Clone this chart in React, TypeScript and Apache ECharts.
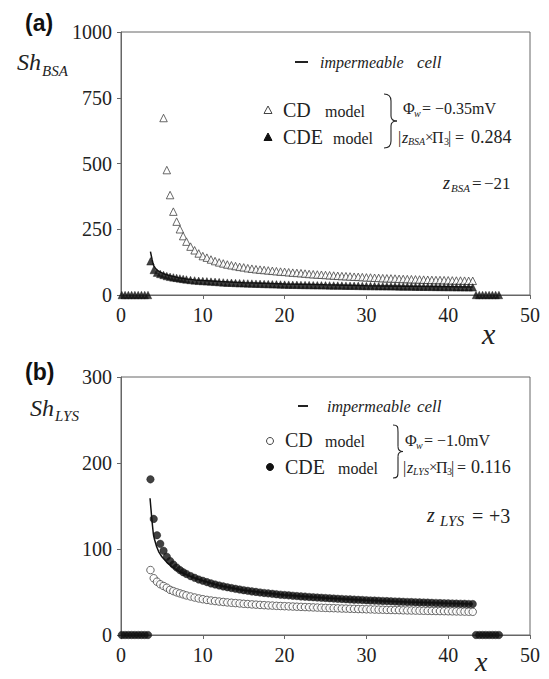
import React, { useEffect, useRef } from "react";
import * as echarts from "echarts";

const SERIF = "Liberation Serif, Times New Roman, serif";
const SANS = "Liberation Sans, Arial, sans-serif";
const INK = "#222";
const FRAME = "#666";

// Shared x positions of the model points (both panels)
const xGrid = [
  3.6, 4.0, 4.4, 4.8, 5.2, 5.6, 6.0, 6.4, 6.8, 7.2, 7.6,
  8.0, 8.5, 9.0, 9.5, 10.0, 10.5, 11.0, 11.5, 12.0, 12.5,
  13.0, 13.5, 14.0, 14.5, 15.0, 15.5, 16.0, 16.5, 17.0, 17.5,
  18.0, 18.5, 19.0, 19.5, 20.0, 20.5, 21.0, 21.5, 22.0, 22.5,
  23.0, 23.5, 24.0, 24.5, 25.0, 25.5, 26.0, 26.5, 27.0, 27.5,
  28.0, 28.5, 29.0, 29.5, 30.0, 30.5, 31.0, 31.5, 32.0, 32.5,
  33.0, 33.5, 34.0, 34.5, 35.0, 35.5, 36.0, 36.5, 37.0, 37.5,
  38.0, 38.5, 39.0, 39.5, 40.0, 40.5, 41.0, 41.5, 42.0, 42.5,
  43.0,
];

// Points lying on the x axis (Sh = 0) on both sides of the sphere region
const zeroLeftX = [0.1, 0.5, 0.9, 1.3, 1.7, 2.1, 2.5, 2.9, 3.3];
const zeroRightX = [43.4, 43.8, 44.2, 44.6, 45.0, 45.4, 45.8, 46.2];

// (a) BSA — CD model (first points are off the scale)
const shBsaCD = [
  null, null, null, null, 673, 475, 380, 317, 279, 250, 224,
  203, 184, 170, 158, 148, 142, 135, 129, 124, 120,
  116, 113, 110, 107, 105, 102, 100, 98, 96.5, 95,
  93.5, 92, 90.5, 89, 88, 86.5, 85, 84, 83, 81.5,
  80, 79, 78, 77, 76, 75, 74, 73, 72, 71.5,
  70.5, 69.5, 69, 68, 67, 66.5, 65.5, 65, 64, 63.5,
  63, 62.5, 61.5, 61, 60.5, 60, 59.5, 59, 58.5, 58,
  57.5, 57, 57, 56.5, 56, 55.5, 55, 55, 54.5, 54,
  54,
];

// (a) BSA — CDE model
const shBsaCDE = [
  128, 95, 85, 80, 76, 72, 69, 67, 65, 63, 61,
  59, 57, 55.5, 54, 53, 52, 51, 50, 49, 48,
  47, 46.5, 45.5, 45, 44.5, 44, 43.5, 43, 42.5, 42,
  41.5, 41, 40.5, 40, 39.5, 39.3, 39, 38.7, 38.4, 38.1,
  37.8, 37.5, 37.2, 37, 36.7, 36.5, 36.2, 36, 35.7, 35.5,
  35.2, 35, 34.7, 34.5, 34.2, 34, 33.8, 33.6, 33.4, 33.2,
  33, 32.8, 32.6, 32.4, 32.2, 32, 31.8, 31.6, 31.4, 31.2,
  31, 30.8, 30.6, 30.4, 30.2, 30, 29.8, 29.6, 29.4, 29.2,
  29,
];

// (a) impermeable cell curve
const cellBsaX = [3.6, 3.7, 3.8, 3.9, 4.0, 4.2, 4.4, 4.8, 5.2, 6, 7, 8, 9, 10, 12, 15, 20, 25, 30, 35, 40, 43];
const cellBsaY = [165, 150, 135, 122, 112, 102, 95, 87, 81, 73, 66, 61, 57.5, 55, 51, 47, 42, 38.5, 35.5, 33, 31, 30];

// (b) LYS — CD model
const shLysCD = [
  75.5, 66, 62, 59, 57, 55, 52.5, 51, 49.6, 48.4, 47.2,
  46, 44.8, 43.6, 42.5, 41.6, 40.8, 40.1, 39.5, 38.9, 38.4,
  37.9, 37.5, 37.1, 36.7, 36.3, 36, 35.6, 35.3, 35, 34.7,
  34.4, 34.2, 33.9, 33.7, 33.5, 33.3, 33.1, 32.9, 32.7, 32.5,
  32.3, 32.1, 31.9, 31.7, 31.5, 31.3, 31.2, 31, 30.8, 30.7,
  30.5, 30.4, 30.2, 30.1, 29.9, 29.8, 29.6, 29.5, 29.4, 29.2,
  29.1, 29, 28.9, 28.7, 28.6, 28.5, 28.4, 28.3, 28.2, 28.1,
  28, 27.9, 27.8, 27.7, 27.6, 27.5, 27.4, 27.3, 27.2, 27.1,
  27,
];

// (b) LYS — CDE model
const shLysCDE = [
  181, 135, 116, 106, 98, 91, 86, 82, 78.5, 75.5, 73,
  71, 68.5, 66.5, 64.5, 63, 61.5, 60, 58.8, 57.6, 56.5,
  55.5, 54.6, 53.7, 52.9, 52.1, 51.4, 50.7, 50.1, 49.5, 48.9,
  48.4, 47.9, 47.4, 46.9, 46.5, 46.1, 45.7, 45.3, 44.9, 44.6,
  44.2, 43.9, 43.6, 43.3, 43, 42.7, 42.4, 42.1, 41.9, 41.6,
  41.4, 41.1, 40.9, 40.7, 40.4, 40.2, 40, 39.8, 39.6, 39.4,
  39.2, 39, 38.8, 38.6, 38.4, 38.3, 38.1, 37.9, 37.8, 37.6,
  37.4, 37.3, 37.1, 37, 36.8, 36.7, 36.5, 36.4, 36.3, 36.1,
  36,
];

// (b) impermeable cell curve
const cellLysX = [3.55, 3.65, 3.75, 3.85, 3.95, 4.1, 4.35, 4.6, 5.0, 5.6, 6.4, 7.2, 8, 9, 10, 12, 15, 20, 25, 30, 35, 40, 43];
const cellLysY = [159, 148, 137, 127, 118, 111, 103, 97, 91, 84.5, 78, 73.5, 70, 66.3, 63, 57.6, 52.1, 46.5, 43, 40.4, 38.4, 36.8, 36];

// Axis ranges and ticks
const xRange = { min: 0, max: 50, step: 10 };
const yRangeBsa = { min: 0, max: 1000, step: 250 };
const yRangeLys = { min: 0, max: 300, step: 100 };

const pairs = (xs: number[], ys: (number | null)[]) =>
  xs.map((x, i) => [x, ys[i]]).filter((p) => p[1] !== null && p[1] !== undefined);

const zeros = (xs: number[]) => xs.map((x) => [x, 0]);

type TOpts = { [k: string]: any };
const txt = (x: number, y: number, text: string, size: number, o: TOpts = {}) => ({
  type: "text",
  x,
  y,
  silent: true,
  style: {
    text,
    fontFamily: SERIF,
    fontSize: size,
    fill: INK,
    align: "left",
    verticalAlign: "middle",
    textAlign: "left",
    textVerticalAlign: "middle",
    ...o,
  },
});

const curve = (x1: number, y1: number, c1x: number, c1y: number, c2x: number, c2y: number, x2: number, y2: number) => ({
  type: "bezierCurve",
  silent: true,
  shape: { x1, y1, x2, y2, cpx1: c1x, cpy1: c1y, cpx2: c2x, cpy2: c2y },
  style: { stroke: INK, lineWidth: 1.1, fill: null },
});

const seg = (x1: number, y1: number, x2: number, y2: number, w = 1.1) => ({
  type: "line",
  silent: true,
  shape: { x1, y1, x2, y2 },
  style: { stroke: INK, lineWidth: w },
});

// Curly brace: left tips at xl, stem at xs, point at xp
const brace = (xl: number, xs: number, xp: number, yt: number, yb: number) => {
  const ym = (yt + yb) / 2;
  return [
    curve(xl, yt, xl + 5, yt, xs, yt + 2, xs, yt + 7),
    seg(xs, yt + 7, xs, ym - 5),
    curve(xs, ym - 5, xs, ym - 1, xs + 3, ym, xp, ym),
    curve(xp, ym, xs + 3, ym, xs, ym + 1, xs, ym + 5),
    seg(xs, ym + 5, xs, yb - 7),
    curve(xs, yb - 7, xs, yb - 2, xl + 5, yb, xl, yb),
  ];
};

const tri = (cx: number, cy: number, filled: boolean) => ({
  type: "polygon",
  silent: true,
  shape: { points: [[cx, cy - 4], [cx - 4, cy + 3.5], [cx + 4, cy + 3.5]] },
  style: { fill: filled ? "#111" : "#fff", stroke: filled ? "#111" : "#444", lineWidth: 1 },
});

const dot = (cx: number, cy: number, filled: boolean) => ({
  type: "circle",
  silent: true,
  shape: { cx, cy, r: 3.5 },
  style: { fill: filled ? "#111" : "#fff", stroke: filled ? "#111" : "#444", lineWidth: 1 },
});

const IT = { fontStyle: "italic" };

const tickLabel = {
  fontFamily: SERIF,
  fontSize: 20,
  color: INK,
  formatter: (v: number) => String(v),
};

const xAxisFor = (gridIndex: number) => ({
  type: "value",
  gridIndex,
  min: xRange.min,
  max: xRange.max,
  interval: xRange.step,
  axisLine: { show: true, onZero: false, lineStyle: { color: FRAME, width: 1 } },
  axisTick: { show: true, length: 4, lineStyle: { color: FRAME } },
  splitLine: { show: false },
  axisLabel: { ...tickLabel, margin: 10 },
});

const yAxisFor = (gridIndex: number, r: { min: number; max: number; step: number }) => ({
  type: "value",
  gridIndex,
  min: r.min,
  max: r.max,
  interval: r.step,
  axisLine: { show: true, onZero: false, lineStyle: { color: FRAME, width: 1 } },
  axisTick: { show: true, length: 4, lineStyle: { color: FRAME } },
  splitLine: { show: false },
  axisLabel: { ...tickLabel, margin: 9 },
});

const openMark = (symbol: string) => ({
  symbol,
  symbolSize: 7.5,
  itemStyle: { color: "#fff", borderColor: "#444", borderWidth: 1 },
});
const solidMark = (symbol: string) => ({
  symbol,
  symbolSize: 7.5,
  itemStyle: { color: "#111", borderColor: "#111", borderWidth: 0.5 },
});

export default function App() {
  const ref = useRef<HTMLDivElement>(null);

  useEffect(() => {
    if (!ref.current) return;
    const chart = echarts.init(ref.current, undefined, { renderer: "svg" });

    const graphics: any[] = [
      // panel (a) annotations
      txt(25, 23, "(a)", 23, { fontFamily: SANS, fontWeight: "bold", fill: "#111" }),
      txt(17, 62, "Sh", 24, IT),
      txt(42, 71, "BSA", 15, IT),
      txt(482, 333, "x", 30, IT),
      seg(295, 62, 308, 62, 2),
      txt(320, 62, "impermeable", 16, IT),
      txt(417, 62, "cell", 17, IT),
      tri(268, 110, false),
      txt(283, 110, "CD", 20),
      txt(325, 111, "model", 16),
      tri(268, 137, true),
      txt(283, 137, "CDE", 20),
      txt(333, 138, "model", 16),
      ...brace(384, 391, 397, 94, 148),
      txt(403, 108, "Φ", 16),
      txt(414, 113, "w", 10, IT),
      txt(422, 108, "= −0.35mV", 16),
      txt(398, 137, "|", 16),
      txt(402, 137, "z", 16, IT),
      txt(408, 141, "BSA", 10, IT),
      txt(425, 137, "×", 15),
      txt(432, 137, "Π", 16),
      txt(444, 141, "3", 10),
      txt(448, 137, "|", 16),
      txt(455, 137, "=", 16),
      txt(471, 137, "0.284", 18),
      txt(443, 183, "z", 18, IT),
      txt(451, 188, "BSA", 11, IT),
      txt(472, 183, "=", 17),
      txt(484, 183, "−21", 17),

      // panel (b) annotations
      txt(25, 372, "(b)", 23, { fontFamily: SANS, fontWeight: "bold", fill: "#111" }),
      txt(30, 408, "Sh", 24, IT),
      txt(55, 416, "LYS", 15, IT),
      txt(475, 661, "x", 28, IT),
      seg(298, 406, 308, 406, 2),
      txt(327, 406, "impermeable", 16, IT),
      txt(417, 406, "cell", 17, IT),
      dot(270, 441, false),
      txt(285, 440, "CD", 20),
      txt(325, 441, "model", 16),
      dot(270, 467, true),
      txt(285, 467, "CDE", 20),
      txt(338, 468, "model", 16),
      ...brace(393, 398, 403, 425, 478),
      txt(405, 440, "Φ", 16),
      txt(416, 445, "w", 10, IT),
      txt(424, 440, "= −1.0mV", 16),
      txt(403, 467, "|", 16),
      txt(407, 467, "z", 16, IT),
      txt(413, 471, "LYS", 10, IT),
      txt(429, 467, "×", 15),
      txt(436, 467, "Π", 16),
      txt(447, 471, "3", 10),
      txt(451, 467, "|", 16),
      txt(457, 467, "=", 16),
      txt(471, 467, "0.116", 18),
      txt(427, 515, "z", 20, IT),
      txt(440, 521, "LYS", 15, IT),
      txt(472, 516, "=", 20),
      txt(489, 516, "+3", 20),
    ];

    chart.setOption({
      animation: false,
      backgroundColor: "#fff",
      textStyle: { fontFamily: SERIF },
      grid: [
        { left: 121, top: 32, width: 409, height: 263, show: true, borderColor: FRAME, borderWidth: 1, backgroundColor: "transparent" },
        { left: 121, top: 377, width: 409, height: 258, show: true, borderColor: FRAME, borderWidth: 1, backgroundColor: "transparent" },
      ],
      xAxis: [xAxisFor(0), xAxisFor(1)],
      yAxis: [yAxisFor(0, yRangeBsa), yAxisFor(1, yRangeLys)],
      series: [
        // (a)
        { name: "zero a", type: "scatter", xAxisIndex: 0, yAxisIndex: 0, clip: false, data: [...zeros(zeroLeftX), ...zeros(zeroRightX)], ...solidMark("triangle") },
        { name: "CD model (BSA)", type: "scatter", xAxisIndex: 0, yAxisIndex: 0, clip: false, data: pairs(xGrid, shBsaCD), ...openMark("triangle") },
        { name: "CDE model (BSA)", type: "scatter", xAxisIndex: 0, yAxisIndex: 0, clip: false, data: pairs(xGrid, shBsaCDE), ...solidMark("triangle") },
        {
          name: "impermeable cell (BSA)", type: "line", xAxisIndex: 0, yAxisIndex: 0, showSymbol: false, z: 5,
          data: pairs(cellBsaX, cellBsaY), lineStyle: { color: "#111", width: 1.5 },
        },
        // (b)
        { name: "zero b", type: "scatter", xAxisIndex: 1, yAxisIndex: 1, clip: false, data: [...zeros(zeroLeftX), ...zeros(zeroRightX)], ...solidMark("circle") },
        { name: "CD model (LYS)", type: "scatter", xAxisIndex: 1, yAxisIndex: 1, clip: false, data: pairs(xGrid, shLysCD), ...openMark("circle") },
        { name: "CDE model (LYS)", type: "scatter", xAxisIndex: 1, yAxisIndex: 1, clip: false, data: pairs(xGrid, shLysCDE), ...solidMark("circle") },
        {
          name: "impermeable cell (LYS)", type: "line", xAxisIndex: 1, yAxisIndex: 1, showSymbol: false, z: 5,
          data: pairs(cellLysX, cellLysY), lineStyle: { color: "#111", width: 1.5 },
        },
      ],
      graphic: { elements: graphics },
    });

    return () => chart.dispose();
  }, []);

  return (
    <div
      ref={ref}
      style={{ position: "fixed", left: 0, top: 0, width: 549, height: 679, background: "#fff" }}
    />
  );
}
